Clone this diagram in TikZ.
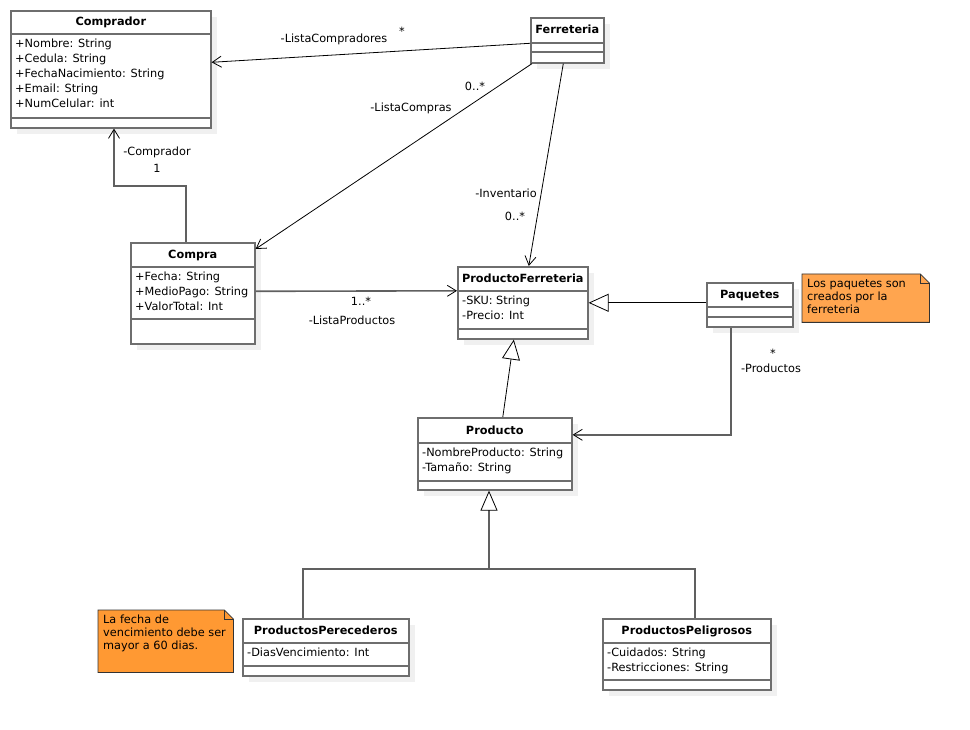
\documentclass[tikz,border=0pt]{standalone}
\usepackage{fontspec}
\setmainfont{DejaVu Sans}
\usetikzlibrary{positioning, calc, arrows.meta, shadows}

\definecolor{boxgray}{HTML}{6E6E6E}
\definecolor{linegray}{HTML}{606060}
\definecolor{notelight}{HTML}{FFA54F}
\definecolor{notedark}{HTML}{FF9933}

% class box: name, x, y, width, height, title band, attribute band, title, attributes
\newcommand{\umlclass}[9]{%
  \node[classbox, minimum width=#4pt, minimum height=#5pt] (#1) at (#2,#3) {};
  \draw[classline] ($(#1.north west)+(0,#6)$) -- ($(#1.north east)+(0,#6)$);
  \draw[classline] ($(#1.north west)+(0,#7)$) -- ($(#1.north east)+(0,#7)$);
  \node[classtitle] (#1-title) at ($(#1.north)+(0,#6/2+4)$) {#8};
  \node[classattr] (#1-attrs) at ($(#1.north west)+(5,#6+5)$) {#9};
}

% note: name, x, y, width, height, colour, text
\newcommand{\umlnote}[7]{%
  \node[notebox, minimum width=#4pt, minimum height=#5pt] (#1) at (#2,#3) {};
  \filldraw[notefold, fill=#6] (#1.north west) -- ($(#1.north east)+(-9,0)$)
    -- ($(#1.north east)+(0,9)$) -- (#1.south east) -- (#1.south west) -- cycle;
  \draw[notefold] ($(#1.north east)+(-9,0)$) -- ($(#1.north east)+(-9,9)$) -- ($(#1.north east)+(0,9)$);
  \node[notetext] (#1-text) at ($(#1.north west)+(5,5)$) {#7};
}

\begin{document}
\begin{tikzpicture}[x=1pt, y=-1pt,
    font=\fontsize{11.3}{15}\selectfont,
    classbox/.style={draw=boxgray, line width=1.6pt, fill=white, anchor=north west, inner sep=0pt,
      drop shadow={shadow xshift=6pt, shadow yshift=-6pt, fill=black, opacity=0.06}},
    classline/.style={draw=boxgray, line width=1.6pt},
    classtitle/.style={font=\fontsize{11.3}{15}\selectfont\bfseries, anchor=base, inner sep=0pt},
    classattr/.style={align=left, anchor=north west, inner sep=0pt},
    notebox/.style={draw=none, anchor=north west, inner sep=0pt},
    notefold/.style={draw=black!80, line width=0.8pt},
    notetext/.style={font=\fontsize{11.3}{13}\selectfont, align=left, anchor=north west, inner sep=0pt},
    lbl/.style={inner sep=0pt},
    assoc/.style={draw=black, line width=0.8pt, -{Straight Barb[length=9pt, width=11pt]}},
    assocgray/.style={draw=linegray, line width=1.6pt, -{Straight Barb[length=9pt, width=11pt, line width=0.8pt, color=black]}},
    gen/.style={draw=black, line width=0.8pt, -{Triangle[open, fill=white, length=20pt, width=18pt, line width=0.8pt]}},
    genline/.style={draw=linegray, line width=1.6pt},
    gengray/.style={draw=linegray, line width=1.6pt, -{Triangle[open, fill=white, length=20pt, width=17pt, line width=0.8pt, color=black]}}]

    \useasboundingbox (0,0) rectangle (970,730);

    % Classes
    \umlclass{Comprador}{10}{10}{200}{117}{24}{108}{Comprador}
      {+Nombre: String\\+Cedula: String\\+FechaNacimiento: String\\+Email: String\\+NumCelular: int}
    \umlclass{Ferreteria}{530}{17}{73}{45}{26}{35}{Ferreteria}{}
    \umlclass{Compra}{130}{242}{124}{101}{25}{77}{Compra}
      {+Fecha: String\\+MedioPago: String\\+ValorTotal: Int}
    \umlclass{ProductoFerreteria}{457}{266}{130}{72}{25}{63}{ProductoFerreteria}
      {-SKU: String\\-Precio: Int}
    \umlclass{Paquetes}{706}{282}{86}{44}{25}{35}{Paquetes}{}
    \umlclass{Producto}{417}{417}{154}{72}{26}{64}{Producto}
      {-NombreProducto: String\\-Tamaño: String}
    \umlclass{ProductosPerecederos}{242}{618}{166}{57}{25}{48}{ProductosPerecederos}
      {-DiasVencimiento: Int}
    \umlclass{ProductosPeligrosos}{602}{618}{168}{71}{25}{62}{ProductosPeligrosos}
      {-Cuidados: String\\-Restricciones: String}

    % Notes
    \umlnote{NotaPaquetes}{802}{274}{127}{48}{notelight}{Los paquetes son\\creados por la\\ferreteria}
    \umlnote{NotaFecha}{98}{610}{135}{62}{notedark}{La fecha de\\vencimiento debe ser\\mayor a 60 dias.}

    % Associations from Ferreteria
    \draw[assoc] ([yshift=-3pt]Ferreteria.west) -- ([yshift=7pt]Comprador.east);
    \draw[assoc] ([xshift=2pt]Ferreteria.south west) -- ([yshift=-7pt]Compra.north east);
    \draw[assoc] ([xshift=-4pt]Ferreteria.south) -- ([xshift=6pt]ProductoFerreteria.north);

    % Associations from Compra
    \coordinate (cjog) at (114,186);
    \draw[assocgray] ([xshift=-7pt]Compra.north) |- (cjog) -- (cjog |- Comprador.south);
    \draw[assocgray] ([yshift=2pt]Compra.east) -- ([yshift=12pt]ProductoFerreteria.west);

    % Paquetes
    \draw[gen] ([yshift=2pt]Paquetes.west) -- (ProductoFerreteria.east);
    \draw[assocgray] ([xshift=-19pt]Paquetes.south) |- ([yshift=19pt]Producto.east);

    % Generalizations
    \draw[gen] ([xshift=8pt]Producto.north) -- ([xshift=-9pt]ProductoFerreteria.south);
    \coordinate (arbol) at (489,569);
    \draw[genline] ([xshift=-23pt]ProductosPerecederos.north) |- (arbol) -| ([xshift=8pt]ProductosPeligrosos.north);
    \draw[gengray] (arbol) -- (arbol |- Producto.south);

    % Labels
    \node[lbl] (l-compradores) at (334,39) {-ListaCompradores};
    \node[lbl] (m-compradores) at (402,31) {*};
    \node[lbl] (m-compras) at (475,86) {0..*};
    \node[lbl] (l-compras) at (411,108) {-ListaCompras};
    \node[lbl] (l-inventario) at (506,193) {-Inventario};
    \node[lbl] (m-inventario) at (515,216) {0..*};
    \node[lbl] (l-comprador) at (157,152) {-Comprador};
    \node[lbl] (m-comprador) at (157,168) {1};
    \node[lbl] (m-productos) at (361,301) {1..*};
    \node[lbl] (l-productos) at (352,320) {-ListaProductos};
    \node[lbl] (m-paquete) at (773,353) {*};
    \node[lbl] (l-paquete) at (771,368) {-Productos};

\end{tikzpicture}
\end{document}
